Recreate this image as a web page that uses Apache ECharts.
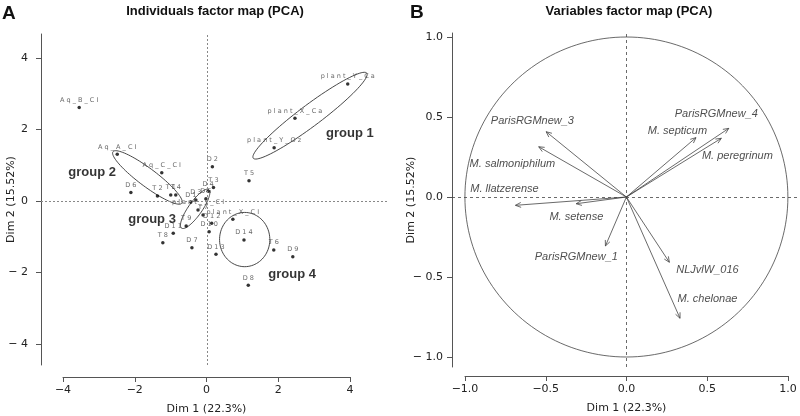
<!DOCTYPE html>
<html><head><meta charset="utf-8">
<script src="https://cdn.jsdelivr.net/npm/echarts@6/dist/echarts.min.js"></script>
<style>html,body{margin:0;padding:0;background:#fff}#c{width:800px;height:416px}</style>
</head><body><div id="c"></div>
<script>
// ---------- Panel A : individuals ----------
const indNames = ['Aq_B_CI','Aq_A_CI','Aq_C_CI','plant_Y_Ca','plant_X_Ca','plant_Y_Oz','T5','D2','T3','D4','D5','D6','T2','T1','T4','D1','D3','T7','plant_Y_CI','T9','D11','T8','D7','D12','D10','D13','plant_X_CI','D14','T6','D9','D8'];
const indX = [-3.56,-2.50,-1.26,3.92,2.45,1.87,1.17,0.15,0.18,0.03,-0.03,-2.12,-1.38,-1.01,-0.87,-0.45,-0.31,-0.11,-0.25,-0.58,-0.94,-1.23,-0.42,0.13,0.06,0.25,0.72,1.03,1.86,2.39,1.15];
const indY = [2.62,1.31,0.79,3.28,2.32,1.49,0.57,0.96,0.38,0.27,0.06,0.24,0.14,0.17,0.17,-0.03,0.03,-0.39,-0.25,-0.70,-0.90,-1.17,-1.31,-0.62,-0.86,-1.49,-0.51,-1.09,-1.37,-1.56,-2.36];

const groupNames = ['group 1','group 2','group 3','group 4'];
const groupLabelX = [3.98,-3.20,-1.53,2.37];
const groupLabelY = [1.90,0.81,-0.53,-2.07];
const ellCX = [2.87,-1.66,-0.33,1.05];
const ellCY = [2.39,0.66,-0.22,-1.08];
const ellA = [1.98,1.20,0.66,0.76];
const ellB = [0.30,0.25,0.19,0.70];
const ellAngle = [37,-37,55,90];
const ticksA = [-4,-2,0,2,4];

// ---------- Panel B : variables ----------
const varNames = ['ParisRGMnew_3','M. salmoniphilum','M. llatzerense','M. setense','ParisRGMnew_4','M. septicum','M. peregrinum','ParisRGMnew_1','NLJvlW_016','M. chelonae'];
const varX = [-0.497,-0.543,-0.687,-0.311,0.634,0.431,0.588,-0.130,0.266,0.332];
const varY = [0.408,0.314,-0.052,-0.042,0.429,0.371,0.367,-0.306,-0.408,-0.758];
const varLabelX = [-0.582,-0.706,-0.755,-0.310,0.557,0.316,0.687,-0.310,0.502,0.502];
const varLabelY = [0.477,0.206,0.050,-0.123,0.519,0.414,0.256,-0.375,-0.456,-0.638];
const ticksB = [-1,-0.5,0,0.5,1];

const MINUS = '\u2212';
const fmtX = v => (v < 0 ? MINUS + Math.abs(v) : String(v));
const fmtYA = v => (v < 0 ? MINUS + ' ' + Math.abs(v) : String(v));
const fmtXB = v => (v < 0 ? MINUS + Math.abs(v).toFixed(1) : v.toFixed(1));
const fmtYB = v => (v < 0 ? MINUS + ' ' + Math.abs(v).toFixed(1) : v.toFixed(1));

const axisCol = '#555';
const tickFont = {fontSize: 11, color: '#222', fontFamily: 'DejaVu Sans'};

function ellipseRender(params, api) {
  const cx = api.value(0), cy = api.value(1), a = api.value(2), b = api.value(3);
  const ang = api.value(4) * Math.PI / 180;
  const pts = [];
  for (let i = 0; i <= 90; i++) {
    const t = i / 90 * 2 * Math.PI;
    const ex = a * Math.cos(t), ey = b * Math.sin(t);
    pts.push(api.coord([cx + ex * Math.cos(ang) - ey * Math.sin(ang), cy + ex * Math.sin(ang) + ey * Math.cos(ang)]));
  }
  return {type: 'polyline', shape: {points: pts}, style: {fill: null, stroke: '#333', lineWidth: 0.9}};
}
function circleRender(params, api) {
  const r = api.value(2);
  const pts = [];
  for (let i = 0; i <= 180; i++) {
    const t = i / 180 * 2 * Math.PI;
    pts.push(api.coord([api.value(0) + r * Math.cos(t), api.value(1) + r * Math.sin(t)]));
  }
  return {type: 'polyline', shape: {points: pts}, style: {fill: null, stroke: '#444', lineWidth: 0.8}};
}
function arrowRender(params, api) {
  const o = api.coord([0, 0]);
  const p = api.coord([api.value(0), api.value(1)]);
  const ang = Math.atan2(p[1] - o[1], p[0] - o[0]);
  const L = 6, w = 0.42;
  const h1 = [p[0] - L * Math.cos(ang - w), p[1] - L * Math.sin(ang - w)];
  const h2 = [p[0] - L * Math.cos(ang + w), p[1] - L * Math.sin(ang + w)];
  const st = {stroke: '#444', lineWidth: 0.8, fill: null};
  return {type: 'group', children: [
    {type: 'line', shape: {x1: o[0], y1: o[1], x2: p[0], y2: p[1]}, style: st},
    {type: 'polyline', shape: {points: [h1, p, h2]}, style: st}
  ]};
}

const chart = echarts.init(document.getElementById('c'), null, {renderer: 'canvas'});
const option = {
  animation: false,
  backgroundColor: '#fff',
  graphic: [
    {type: 'text', left: 2, top: 4, style: {text: 'A', font: 'bold 19px "Liberation Sans", Arial', fill: '#111'}},
    {type: 'text', x: 215, y: 11, style: {text: 'Individuals factor map (PCA)', font: 'bold 13px "Liberation Sans", Arial', fill: '#111', textAlign: 'center', textVerticalAlign: 'middle'}},
    {type: 'text', left: 410, top: 3, style: {text: 'B', font: 'bold 19px "Liberation Sans", Arial', fill: '#111'}},
    {type: 'text', x: 629, y: 11, style: {text: 'Variables factor map (PCA)', font: 'bold 13px "Liberation Sans", Arial', fill: '#111', textAlign: 'center', textVerticalAlign: 'middle'}}
  ],
  grid: [
    {left: 41, top: 34, width: 347, height: 331, outerBoundsMode: 'none', containLabel: false},
    {left: 63, top: 376, width: 287, height: 1, outerBoundsMode: 'none', containLabel: false},
    {left: 452, top: 33, width: 348, height: 334, outerBoundsMode: 'none', containLabel: false},
    {left: 465, top: 375, width: 323, height: 1, outerBoundsMode: 'none', containLabel: false}
  ],
  xAxis: [
    {gridIndex: 0, type: 'value', min: -4.624, max: 5.042, show: false},
    {gridIndex: 1, type: 'value', min: -4, max: 4, interval: 2,
      axisLine: {show: true, onZero: false, lineStyle: {color: axisCol}}, axisTick: {show: true, length: 5, lineStyle: {color: axisCol}},
      axisLabel: Object.assign({formatter: fmtX, margin: 8}, tickFont), splitLine: {show: false},
      name: 'Dim 1 (22.3%)', nameLocation: 'middle', nameGap: 27, nameMoveOverlap: false, nameTextStyle: tickFont},
    {gridIndex: 2, type: 'value', min: -1.08, max: 1.075, show: false},
    {gridIndex: 3, type: 'value', min: -1, max: 1, interval: 0.5,
      axisLine: {show: true, onZero: false, lineStyle: {color: axisCol}}, axisTick: {show: true, length: 5, lineStyle: {color: axisCol}},
      axisLabel: Object.assign({formatter: fmtXB, margin: 8}, tickFont), splitLine: {show: false},
      name: 'Dim 1 (22.3%)', nameLocation: 'middle', nameGap: 27, nameMoveOverlap: false, nameTextStyle: tickFont}
  ],
  yAxis: [
    {gridIndex: 0, type: 'value', min: -4.594, max: 4.678,
      axisLine: {show: true, onZero: false, lineStyle: {color: axisCol}},
      axisTick: {show: true, length: 5, customValues: ticksA, lineStyle: {color: axisCol}},
      axisLabel: Object.assign({customValues: ticksA, formatter: fmtYA, margin: 13}, tickFont),
      splitLine: {show: false},
      name: 'Dim 2 (15.52%)', nameLocation: 'middle', nameGap: 24, nameRotate: 90, nameMoveOverlap: false, nameTextStyle: tickFont},
    {gridIndex: 1, type: 'value', show: false},
    {gridIndex: 2, type: 'value', min: -1.0625, max: 1.025,
      axisLine: {show: true, onZero: false, lineStyle: {color: axisCol}},
      axisTick: {show: true, length: 5, customValues: ticksB, lineStyle: {color: axisCol}},
      axisLabel: Object.assign({customValues: ticksB, formatter: fmtYB, margin: 9}, tickFont),
      splitLine: {show: false},
      name: 'Dim 2 (15.52%)', nameLocation: 'middle', nameGap: 35, nameRotate: 90, nameMoveOverlap: false, nameTextStyle: tickFont},
    {gridIndex: 3, type: 'value', show: false}
  ],
  series: [
    {type: 'custom', xAxisIndex: 0, yAxisIndex: 0, renderItem: ellipseRender, silent: true,
      data: ellCX.map((c, i) => [c, ellCY[i], ellA[i], ellB[i], ellAngle[i]]),
      markLine: {silent: true, symbol: 'none', label: {show: false},
        lineStyle: {color: '#888', type: [2, 2], width: 1},
        data: [{xAxis: 0}, {yAxis: 0}]}},
    {type: 'scatter', xAxisIndex: 0, yAxisIndex: 0, symbolSize: 3.5, itemStyle: {color: '#000'},
      data: indNames.map((n, i) => ({name: n, value: [indX[i], indY[i]]})),
      label: {show: true, position: 'top', distance: 2, fontSize: 6.5, color: '#444', fontFamily: 'DejaVu Sans',
        formatter: p => p.name.split('').join(' ')}},
    {type: 'scatter', xAxisIndex: 0, yAxisIndex: 0, symbolSize: 0, silent: true,
      data: groupNames.map((n, i) => ({name: n, value: [groupLabelX[i], groupLabelY[i]]})),
      label: {show: true, position: 'inside', formatter: '{b}', fontSize: 13, fontWeight: 'bold', color: '#000', fontFamily: 'Liberation Sans'}},
    {type: 'custom', xAxisIndex: 2, yAxisIndex: 2, renderItem: circleRender, silent: true,
      data: [[0, 0, 1]],
      markLine: {silent: true, symbol: 'none', label: {show: false},
        lineStyle: {color: '#444', type: [3, 3], width: 0.8},
        data: [{xAxis: 0}, {yAxis: 0}]}},
    {type: 'custom', xAxisIndex: 2, yAxisIndex: 2, renderItem: arrowRender, silent: true,
      data: varX.map((x, i) => [x, varY[i]])},
    {type: 'scatter', xAxisIndex: 2, yAxisIndex: 2, symbolSize: 0, silent: true,
      data: varNames.map((n, i) => ({name: n, value: [varLabelX[i], varLabelY[i]]})),
      label: {show: true, position: 'inside', formatter: '{b}', fontSize: 11, fontStyle: 'italic', color: '#222', fontFamily: 'Liberation Sans'}}
  ]
};
chart.setOption(option);
</script>
</body></html>
